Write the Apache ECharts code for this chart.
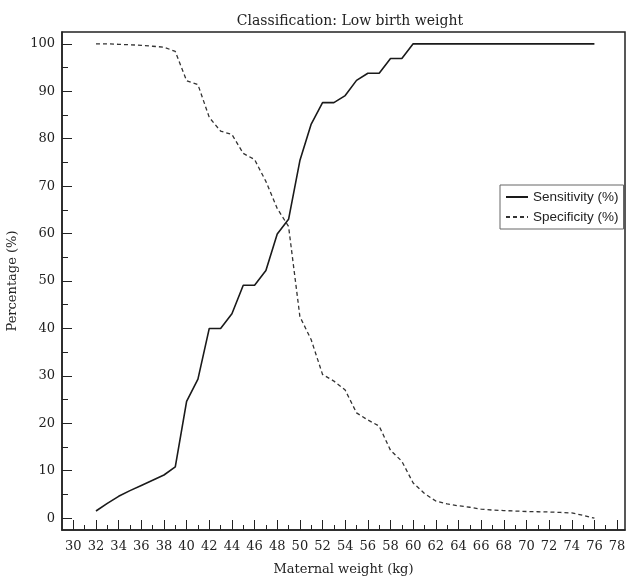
<!DOCTYPE html>
<html><head><meta charset="utf-8">
<script src="https://cdn.jsdelivr.net/npm/echarts@6/dist/echarts.min.js"></script>
<style>html,body{margin:0;padding:0;background:#fff}#c{width:626px;height:577px}</style>
</head><body><div id="c"></div>
<script>
const weights = [32,33,34,35,36,37,38,39,40,41,42,43,44,45,46,47,48,49,50,51,52,53,54,55,56,57,58,59,60,61,62,63,64,65,66,67,68,69,70,71,72,73,74,75,76];
const sensitivity = [1.5,3.1,4.6,5.8,6.9,8.0,9.1,10.8,24.6,29.3,40.0,40.0,43.1,49.1,49.1,52.2,59.9,63.0,75.4,83.1,87.6,87.6,89.1,92.3,93.8,93.8,96.9,96.9,100,100,100,100,100,100,100,100,100,100,100,100,100,100,100,100,100];
const specificity = [100,100,99.9,99.8,99.7,99.5,99.3,98.4,92.2,91.4,84.5,81.6,80.9,76.9,75.6,71.0,65.3,61.5,42.5,37.6,30.3,28.9,27.0,22.2,20.7,19.4,14.3,12.0,7.4,5.2,3.6,3.0,2.6,2.3,1.9,1.7,1.6,1.5,1.4,1.35,1.3,1.2,1.1,0.6,0];
const xTickLabels = [30,32,34,36,38,40,42,44,46,48,50,52,54,56,58,60,62,64,66,68,70,72,74,76,78];
const xMinorTicks = [31,33,35,37,39,41,43,45,47,49,51,53,55,57,59,61,63,65,67,69,71,73,75,77];
const yTickLabels = [0,10,20,30,40,50,60,70,80,90,100];
const yMinorTicks = [5,15,25,35,45,55,65,75,85,95];

const serif = 'DejaVu Serif';
const ink = '#222';
const chart = echarts.init(document.getElementById('c'), null, {renderer:'canvas'});
const xr = {min:29, max:78.7};
const yr = {min:-2.5, max:102.5};
chart.setOption({
  animation:false,
  backgroundColor:'#fff',
  title:{text:'Classification: Low birth weight', left:345, top:9, textAlign:'center',
    textStyle:{fontFamily:serif, fontSize:14, fontWeight:'normal', color:ink}},
  legend:{orient:'vertical', left:500, top:185, itemWidth:22, itemHeight:14, itemGap:6,
    borderColor:'#666', borderWidth:1, padding:[5,5,5,5], borderRadius:0,
    itemStyle:{opacity:0},
    textStyle:{fontFamily:'Liberation Sans', fontSize:13.5, color:ink},
    data:['Sensitivity (%)','Specificity (%)']},
  grid:{left:62, top:32, width:563, height:498, show:true, borderColor:ink, borderWidth:1.5,
    containLabel:false, outerBoundsMode:'none'},
  xAxis:[
    Object.assign({type:'value', position:'bottom',
      axisLine:{show:true, onZero:false, lineStyle:{color:ink, width:1.5}},
      axisTick:{show:true, inside:true, length:10, customValues:xTickLabels, lineStyle:{color:ink, width:1}},
      axisLabel:{customValues:xTickLabels, fontFamily:serif, fontSize:13, color:ink, margin:10},
      splitLine:{show:false},
      name:'Maternal weight (kg)', nameLocation:'middle', nameGap:33,
      nameTextStyle:{fontFamily:serif, fontSize:13, color:ink}}, xr),
    Object.assign({type:'value', position:'bottom',
      axisLine:{show:false, onZero:false},
      axisTick:{show:true, inside:true, length:5, customValues:xMinorTicks, lineStyle:{color:ink, width:1}},
      axisLabel:{show:false}, splitLine:{show:false}}, xr)
  ],
  yAxis:[
    Object.assign({type:'value', position:'left',
      axisLine:{show:true, onZero:false, lineStyle:{color:ink, width:1.5}},
      axisTick:{show:true, inside:true, length:10, customValues:yTickLabels, lineStyle:{color:ink, width:1}},
      axisLabel:{customValues:yTickLabels, fontFamily:serif, fontSize:13, color:ink, margin:7},
      splitLine:{show:false},
      name:'Percentage (%)', nameLocation:'middle', nameGap:35,
      nameTextStyle:{fontFamily:serif, fontSize:13, color:ink}}, yr),
    Object.assign({type:'value', position:'left',
      axisLine:{show:false, onZero:false},
      axisTick:{show:true, inside:true, length:6, customValues:yMinorTicks, lineStyle:{color:ink, width:1}},
      axisLabel:{show:false}, splitLine:{show:false}}, yr)
  ],
  series:[
    {name:'Sensitivity (%)', type:'line', xAxisIndex:0, yAxisIndex:0, symbol:'none',
      lineStyle:{color:'#1a1a1a', width:1.6, type:'solid'}, itemStyle:{color:'#1a1a1a'},
      data:weights.map((w,i)=>[w, sensitivity[i]])},
    {name:'Specificity (%)', type:'line', xAxisIndex:0, yAxisIndex:0, symbol:'none',
      lineStyle:{color:'#333', width:1.3, type:[4,3]}, itemStyle:{color:'#333'},
      data:weights.map((w,i)=>[w, specificity[i]])}
  ]
});
</script></body></html>
